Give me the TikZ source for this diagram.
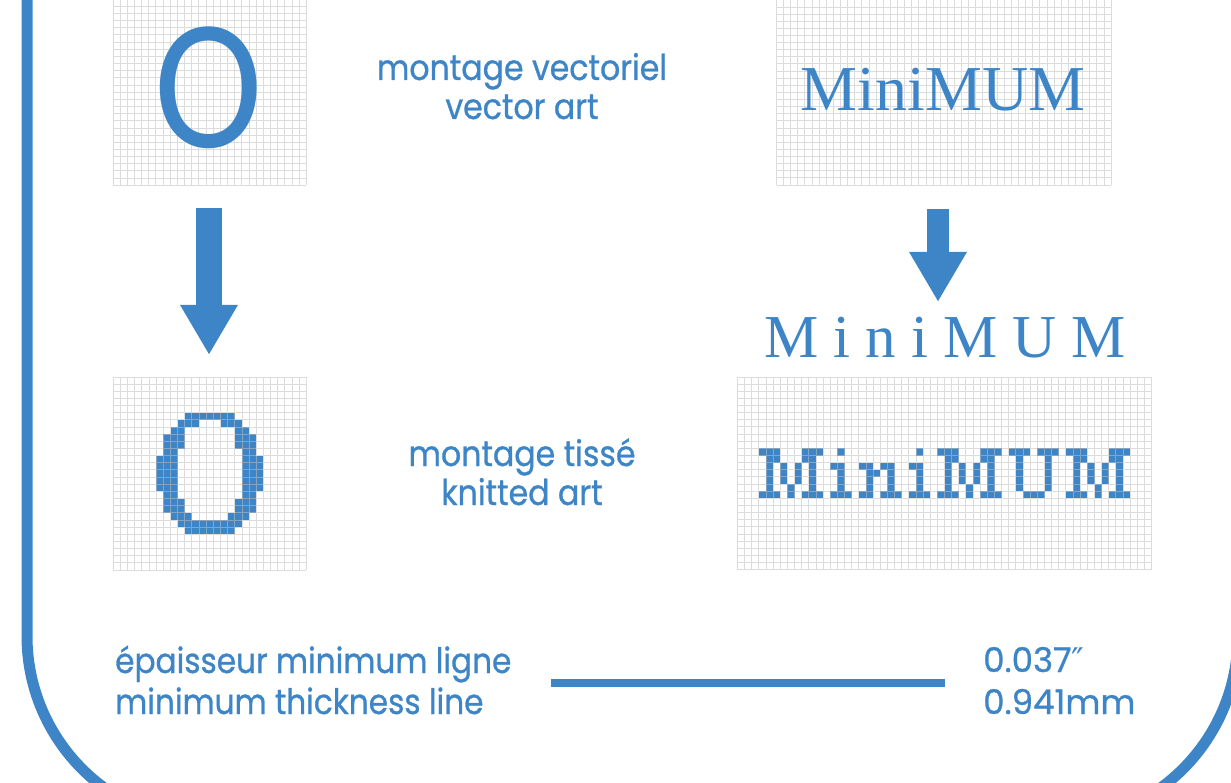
\documentclass[tikz,border=0pt]{standalone}
\usepackage{fontspec}
\usepackage{graphicx}
\usetikzlibrary{arrows.meta}
\newfontfamily\lblfont[FakeStretch=0.89,FakeBold=0.8]{Poppins}
\newfontfamily\numfont[FakeBold=0.8]{Poppins}
\newfontfamily\symfont{DejaVu Sans}
\newfontfamily\serfont{Liberation Serif}
\newfontfamily\ofont{Carlito}
\definecolor{mblue}{HTML}{3D85C6}
\begin{document}
\begin{tikzpicture}[x=1pt,y=-1pt,
  gridline/.style={draw=black!25, line width=1pt, opacity=0.55},
  knit/.style={fill=mblue},
  midlbl/.style={text=mblue, font=\lblfont\fontsize{35.5}{35.5}\selectfont, inner sep=0pt, anchor=base},
  botlbl/.style={text=mblue, font=\lblfont\fontsize{35}{35}\selectfont, inner sep=0pt, anchor=base west},
  numlbl/.style={text=mblue, font=\numfont\fontsize{34}{34}\selectfont, inner sep=0pt, anchor=base west},
  blockarrow/.style={draw=mblue, -{Triangle[length=50pt, width=54pt]}},
  frame/.style={draw=mblue, line width=11pt, rounded corners=188pt}
]
\useasboundingbox (0,0) rectangle (1231,783);

% outer frame
\draw[frame] (27,-300) -- (27,824) -- (1238,824) -- (1238,-300);

% ---------- knitted O (grid 3) ----------
\foreach \r/\cs in {5/{10,11,12,13,14,15,16}, 6/{9,10,11,15,16,17}, 7/{8,9,17,18},
  8/{7,8,9,17,18,19}, 9/{7,8,9,17,18,19}, 10/{7,8,18,19},
  11/{6,7,8,18,19,20}, 12/{6,7,8,18,19,20}, 13/{6,7,8,18,19,20}, 14/{6,7,8,18,19,20}, 15/{6,7,8,18,19,20},
  16/{7,8,18,19}, 17/{7,8,9,17,18,19}, 18/{7,8,9,17,18,19}, 19/{8,9,10,16,17,18},
  20/{9,10,11,12,13,14,15,16,17}, 21/{10,11,12,13,14,15,16}}{
  \foreach \c in \cs {\fill[knit] ({113.3+\c*7.15},{377+\r*7.15}) rectangle ++(7.15,7.15);}
}

% ---------- knitted MiniMUM (grid 4) ----------
\foreach \o in {3,28,46}{
  \foreach \r/\cs in {10/{0,1,2,6,7,8}, 11/{1,2,6,7}, 12/{1,3,5,7}, 13/{1,3,5,7}, 14/{1,3,5,7}, 15/{1,4,7}, 16/{0,1,2,4,6,7,8}}{
    \foreach \c in \cs {\fill[knit] ({737.5+(\o+\c)*7.14},{377+\r*7.14}) rectangle ++(7.14,7.14);}
  }
}
\foreach \o in {13,24}{
  \foreach \r/\cs in {10/{1}, 12/{0,1}, 13/{1}, 14/{1}, 15/{1}, 16/{0,1,2}}{
    \foreach \c in \cs {\fill[knit] ({737.5+(\o+\c)*7.14},{377+\r*7.14}) rectangle ++(7.14,7.14);}
  }
}
\foreach \r/\cs in {12/{17,18,20,21}, 13/{18,19,21}, 14/{18,21}, 15/{18,21}, 16/{17,18,20,21,22},
  10/{38,39,40,42,43,44}, 11/{39,43}, 12/{39,43}, 13/{39,43}, 14/{39,43}, 15/{39,43}, 16/{40,41,42}}{
  \foreach \c in \cs {\fill[knit] ({737.5+\c*7.14},{377+\r*7.14}) rectangle ++(7.14,7.14);}
}

% ---------- grids ----------
% grid 1 (top left)
\draw[gridline] \foreach \i in {0,...,27}{({113+\i*7.16},-8) -- ({113+\i*7.16},{-8+27*7.16})}
                \foreach \j in {0,...,27}{(113,{-8+\j*7.16}) -- ({113+27*7.16},{-8+\j*7.16})};
% grid 2 (top right)
\draw[gridline] \foreach \i in {0,...,47}{({776.5+\i*7.12},-7.2) -- ({776.5+\i*7.12},{-7.2+27*7.12})}
                \foreach \j in {0,...,27}{(776.5,{-7.2+\j*7.12}) -- ({776.5+47*7.12},{-7.2+\j*7.12})};
% grid 3 (bottom left)
\draw[gridline] \foreach \i in {0,...,27}{({113.3+\i*7.15},377) -- ({113.3+\i*7.15},{377+27*7.15})}
                \foreach \j in {0,...,27}{(113.3,{377+\j*7.15}) -- ({113.3+27*7.15},{377+\j*7.15})};
% grid 4 (bottom right)
\draw[gridline] \foreach \i in {0,...,58}{({737.5+\i*7.14},377) -- ({737.5+\i*7.14},{377+27*7.14})}
                \foreach \j in {0,...,27}{(737.5,{377+\j*7.14}) -- ({737.5+58*7.14},{377+\j*7.14})};

% ---------- vector art ----------
\node[text=mblue, font=\ofont\fontsize{186}{186}\selectfont, inner sep=0pt, anchor=base] (bigO) at (209,148) {\scalebox{0.88}[1]{O}};
\node[text=mblue, font=\serfont\fontsize{64}{64}\selectfont, inner sep=0pt, anchor=base] (vecmin) at (943,111) {MiniMUM};
\node[text=mblue, font=\serfont\fontsize{61}{61}\selectfont, inner sep=0pt, anchor=base] (spmin) at (945,357)
  {M\hspace{15pt}i\hspace{15pt}n\hspace{15pt}i\hspace{15pt}M\hspace{15pt}U\hspace{15pt}M};

% ---------- arrows ----------
\coordinate (a1s) at (209,208);
\coordinate (a1e) at (209,355);
\coordinate (a2s) at (938,209);
\coordinate (a2e) at (938,302);
\draw[blockarrow, line width=26pt] (a1s) -- (a1e);
\draw[blockarrow, line width=22pt] (a2s) -- (a2e);

% ---------- labels ----------
\node[midlbl] (t1) at (522,80) {montage vectoriel};
\node[midlbl] (t2) at (522,119) {vector art};
\node[midlbl] (t3) at (522,466) {montage tissé};
\node[midlbl] (t4) at (522,505) {knitted art};

\node[botlbl] (b1) at (115,673) {épaisseur minimum ligne};
\node[botlbl] (b2) at (115,714) {minimum thickness line};
\node[numlbl] (v1) at (983,672) {0.037{\symfont ″}};
\node[numlbl] (v2) at (983,714) {0.941mm};

\coordinate (l1) at (551,683);
\coordinate (l2) at (945,683);
\draw[mblue, line width=8pt] (l1) -- (l2);
\end{tikzpicture}
\end{document}
